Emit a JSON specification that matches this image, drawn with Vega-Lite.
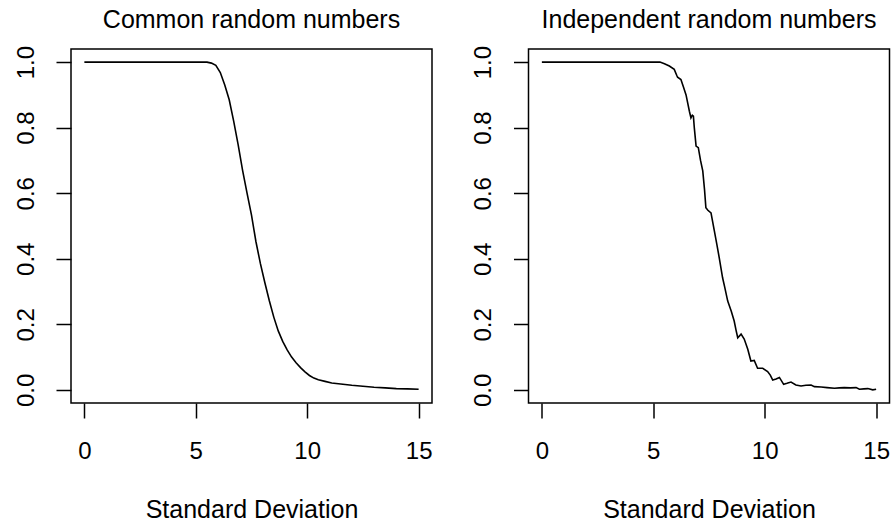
{
  "$schema": "https://vega.github.io/schema/vega-lite/v6.json",
  "background": "white",
  "padding": {"left": 13, "top": 7, "right": 0, "bottom": 0},
  "spacing": 96.5,
  "bounds": "flush",
  "datasets": {
    "common": [
      {"sd": 0, "p": 1}, {"sd": 1, "p": 1}, {"sd": 2, "p": 1}, {"sd": 3, "p": 1}, {"sd": 4, "p": 1}, {"sd": 5, "p": 1},
      {"sd": 5.5, "p": 1}, {"sd": 5.7, "p": 0.997}, {"sd": 5.9, "p": 0.99}, {"sd": 6.1, "p": 0.968}, {"sd": 6.3, "p": 0.93},
      {"sd": 6.5, "p": 0.885}, {"sd": 6.7, "p": 0.82}, {"sd": 6.9, "p": 0.748}, {"sd": 7.1, "p": 0.67}, {"sd": 7.3, "p": 0.6},
      {"sd": 7.5, "p": 0.533}, {"sd": 7.7, "p": 0.452}, {"sd": 7.9, "p": 0.385}, {"sd": 8.1, "p": 0.327}, {"sd": 8.3, "p": 0.272},
      {"sd": 8.5, "p": 0.222}, {"sd": 8.7, "p": 0.18}, {"sd": 8.9, "p": 0.148}, {"sd": 9.1, "p": 0.122}, {"sd": 9.3, "p": 0.1},
      {"sd": 9.5, "p": 0.083}, {"sd": 9.7, "p": 0.068}, {"sd": 9.9, "p": 0.055}, {"sd": 10.1, "p": 0.044}, {"sd": 10.3, "p": 0.036},
      {"sd": 10.5, "p": 0.031}, {"sd": 10.8, "p": 0.026}, {"sd": 11.1, "p": 0.021}, {"sd": 11.5, "p": 0.018}, {"sd": 12, "p": 0.014},
      {"sd": 12.5, "p": 0.011}, {"sd": 13, "p": 0.008}, {"sd": 13.5, "p": 0.006}, {"sd": 14, "p": 0.004}, {"sd": 14.5, "p": 0.003},
      {"sd": 15, "p": 0.002}
    ],
    "independent": [
      {"sd": 0, "p": 1}, {"sd": 1, "p": 1}, {"sd": 2, "p": 1}, {"sd": 3, "p": 1}, {"sd": 4, "p": 1}, {"sd": 5, "p": 1},
      {"sd": 5.3, "p": 1}, {"sd": 5.5, "p": 0.995}, {"sd": 5.72, "p": 0.988}, {"sd": 5.94, "p": 0.978}, {"sd": 6.05, "p": 0.96},
      {"sd": 6.09, "p": 0.954}, {"sd": 6.24, "p": 0.947}, {"sd": 6.35, "p": 0.925}, {"sd": 6.47, "p": 0.9}, {"sd": 6.62, "p": 0.85},
      {"sd": 6.69, "p": 0.83}, {"sd": 6.75, "p": 0.838}, {"sd": 6.8, "p": 0.835}, {"sd": 6.84, "p": 0.8}, {"sd": 6.92, "p": 0.744},
      {"sd": 7.02, "p": 0.739}, {"sd": 7.12, "p": 0.7}, {"sd": 7.22, "p": 0.668}, {"sd": 7.3, "p": 0.61}, {"sd": 7.36, "p": 0.556},
      {"sd": 7.45, "p": 0.548}, {"sd": 7.59, "p": 0.54}, {"sd": 7.74, "p": 0.485}, {"sd": 7.85, "p": 0.445}, {"sd": 7.96, "p": 0.403},
      {"sd": 8.11, "p": 0.342}, {"sd": 8.2, "p": 0.315}, {"sd": 8.34, "p": 0.271}, {"sd": 8.5, "p": 0.24}, {"sd": 8.63, "p": 0.21},
      {"sd": 8.72, "p": 0.18}, {"sd": 8.79, "p": 0.159}, {"sd": 8.94, "p": 0.17}, {"sd": 9.08, "p": 0.155}, {"sd": 9.24, "p": 0.124},
      {"sd": 9.38, "p": 0.088}, {"sd": 9.53, "p": 0.09}, {"sd": 9.68, "p": 0.066}, {"sd": 9.91, "p": 0.066}, {"sd": 10.13, "p": 0.056},
      {"sd": 10.25, "p": 0.045}, {"sd": 10.36, "p": 0.03}, {"sd": 10.51, "p": 0.033}, {"sd": 10.66, "p": 0.038}, {"sd": 10.85, "p": 0.017},
      {"sd": 11.0, "p": 0.02}, {"sd": 11.18, "p": 0.024}, {"sd": 11.4, "p": 0.015}, {"sd": 11.63, "p": 0.012}, {"sd": 11.85, "p": 0.014},
      {"sd": 12.08, "p": 0.015}, {"sd": 12.23, "p": 0.01}, {"sd": 12.53, "p": 0.009}, {"sd": 12.8, "p": 0.007}, {"sd": 13.13, "p": 0.005},
      {"sd": 13.35, "p": 0.006}, {"sd": 13.57, "p": 0.007}, {"sd": 13.85, "p": 0.006}, {"sd": 14.1, "p": 0.007}, {"sd": 14.25, "p": 0.002},
      {"sd": 14.45, "p": 0.003}, {"sd": 14.63, "p": 0.004}, {"sd": 14.85, "p": 0.0}, {"sd": 15, "p": 0.002}
    ]
  },
  "hconcat": [
    {
      "width": 361,
      "height": 354,
      "data": {"name": "common"},
      "title": {"text": "Common random numbers"},
      "mark": {"type": "line", "color": "black", "strokeWidth": 1.6},
      "encoding": {
        "x": {"field": "sd", "type": "quantitative", "scale": {"domain": [-0.6, 15.6], "nice": false, "zero": false}, "axis": {"title": "Standard Deviation", "values": [0, 5, 10, 15]}},
        "y": {"field": "p", "type": "quantitative", "scale": {"domain": [-0.04, 1.04], "nice": false, "zero": false}, "axis": {"title": null, "values": [0, 0.2, 0.4, 0.6, 0.8, 1.0], "format": ".1f"}}
      }
    },
    {
      "width": 361,
      "height": 354,
      "data": {"name": "independent"},
      "title": {"text": "Independent random numbers"},
      "mark": {"type": "line", "color": "black", "strokeWidth": 1.6},
      "encoding": {
        "x": {"field": "sd", "type": "quantitative", "scale": {"domain": [-0.6, 15.6], "nice": false, "zero": false}, "axis": {"title": "Standard Deviation", "values": [0, 5, 10, 15]}},
        "y": {"field": "p", "type": "quantitative", "scale": {"domain": [-0.04, 1.04], "nice": false, "zero": false}, "axis": {"title": null, "values": [0, 0.2, 0.4, 0.6, 0.8, 1.0], "format": ".1f"}}
      }
    }
  ],
  "config": {
    "font": "Liberation Sans",
    "view": {"stroke": "black", "strokeWidth": 1.5, "fill": "white"},
    "title": {"fontSize": 25, "fontWeight": "normal", "color": "black", "frame": "group", "anchor": "middle", "baseline": "alphabetic", "offset": 12},
    "axis": {
      "domain": false,
      "grid": false,
      "ticks": true,
      "tickSize": 15,
      "tickWidth": 1.5,
      "tickColor": "black",
      "labelFontSize": 24,
      "labelColor": "black",
      "labelFont": "Liberation Sans",
      "titleFont": "Liberation Sans",
      "titleFontSize": 25,
      "titleFontWeight": "normal",
      "titleColor": "black"
    },
    "axisX": {"labelBaseline": "alphabetic", "labelPadding": 40, "titleBaseline": "alphabetic", "titleY": 114, "labelFlush": false, "labelOverlap": false},
    "axisY": {"labelAngle": -90, "labelAlign": "center", "labelBaseline": "alphabetic", "labelPadding": 23, "labelFlush": false, "labelOverlap": false}
  }
}
